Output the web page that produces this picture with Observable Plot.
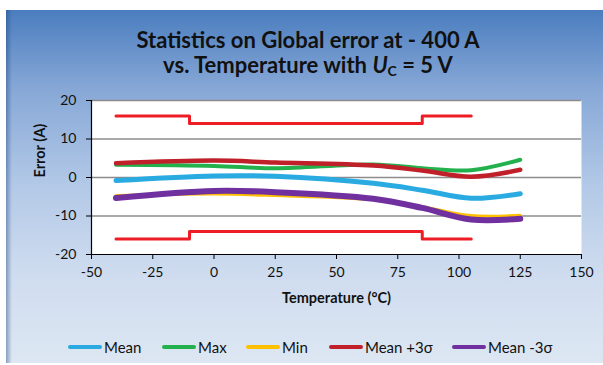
<!DOCTYPE html>
<html>
<head>
<meta charset="utf-8">
<script src="https://cdn.jsdelivr.net/npm/d3@7"></script>
<script src="https://cdn.jsdelivr.net/npm/@observablehq/plot@0.6"></script>
<style>
  html, body { margin: 0; padding: 0; background: #fff; }
  #wrap { position: relative; width: 603px; height: 365px; overflow: hidden; background: #fff; font-family: Lato, "Open Sans", sans-serif; }
  #bg { position: absolute; left: 6px; top: 10px; width: 597px; height: 353px;
        background: linear-gradient(to bottom, #4a7dbf 0%, #86a7d6 22%, #b3c9e7 50%, #cfdcef 75%, #dde7f3 100%); }
  #bg::before { content: ""; position: absolute; left: 0; top: 0; width: 6px; height: 100%;
        background: linear-gradient(to right, rgba(30,70,130,0.45), rgba(30,70,130,0)); }
  #title { position: absolute; left: 8px; width: 600px; top: 27px; text-align: center; font-weight: bold; font-size: 22px; line-height: 25px; color: #111; }
  #title sub { font-size: 14px; vertical-align: -3px; line-height: 0; }
  #chart { position: absolute; left: 0; top: 0; }
  .leg { position: absolute; top: 339px; font-size: 15px; color: #111; display: flex; align-items: center; height: 16px; white-space: nowrap; }
  .leg span.sw { display: inline-block; width: 34px; height: 4px; border-radius: 2px; margin-right: 2px; }
</style>
</head>
<body>
<div id="wrap">
  <div id="bg"></div>
  <div id="title">Statistics on Global error at - 400 A<br>vs. Temperature with <i>U</i><sub>C</sub> = 5 V</div>
  <div id="chart"></div>
  <div id="legend"></div>
</div>
<script>
const temps = [-40, 0, 25, 65, 85, 105, 125];
const meanVals = [-0.8, 0.4, 0.3, -1.5, -3.3, -5.4, -4.2];
const maxVals = [3.3, 3.0, 2.4, 3.4, 2.4, 1.9, 4.6];
const minVals = [-4.7, -4.3, -4.7, -5.8, -7.6, -9.9, -9.8];
const plus3Vals = [3.7, 4.4, 3.9, 3.1, 1.8, 0.2, 2.0];
const minus3Vals = [-5.3, -3.5, -3.8, -5.5, -7.9, -10.9, -10.7];

const limitTemps = [-40, -10, -10, 85, 85, 105];
const upperLimit = [16, 16, 14, 14, 16, 16];
const lowerLimit = [-16, -16, -14, -14, -16, -16];

const xTicks = [-50, -25, 0, 25, 50, 75, 100, 125, 150];
const yTicks = [-20, -10, 0, 10, 20];
const xLabel = "Temperature (°C)";
const yLabel = "Error (A)";

const seriesNames = ["Mean", "Max", "Min", "Mean +3σ", "Mean -3σ"];
const seriesColors = ["#29abe2", "#22b14c", "#ffc000", "#c0202a", "#7030a0"];
const seriesWidths = [5, 4, 3, 4.5, 6];
const seriesValues = [meanVals, maxVals, minVals, plus3Vals, minus3Vals];

const toRows = (vals) => temps.map((t, i) => ({t, v: vals[i]}));
const limRows = (vals) => limitTemps.map((t, i) => ({t, v: vals[i]}));

const drawOrder = [1, 2, 0, 3, 4];
const lineMarks = drawOrder.map(i => Plot.line(toRows(seriesValues[i]), {
  x: "t", y: "v", curve: "catmull-rom", stroke: seriesColors[i], strokeWidth: seriesWidths[i], strokeLinecap: "round", strokeLinejoin: "round"
}));

const plot = Plot.plot({
  width: 603,
  height: 365,
  marginLeft: 91,
  marginRight: 22,
  marginTop: 100,
  marginBottom: 111,
  style: { background: "transparent", fontFamily: "Lato, 'Open Sans', sans-serif", fontSize: "14px", color: "#111" },
  x: { domain: [-50, 150] },
  y: { domain: [-20, 20] },
  marks: [
    Plot.frame({ fill: "white", stroke: "none" }),
    Plot.ruleY(yTicks.filter(d => d > -20), { stroke: "#8c8c8c", strokeWidth: 1.5 }),
    Plot.line(limRows(upperLimit), { x: "t", y: "v", stroke: "#ee1c25", strokeWidth: 3 }),
    Plot.line(limRows(lowerLimit), { x: "t", y: "v", stroke: "#ee1c25", strokeWidth: 3 }),
    ...lineMarks,
    Plot.ruleY([-20], { stroke: "#000", strokeWidth: 1.2 }),
    Plot.ruleX([-50], { stroke: "#000", strokeWidth: 1.2 }),
    Plot.axisX({ ticks: xTicks, tickFormat: d => String(d), tickSize: 5, tickPadding: 8, stroke: "#000", fontSize: 14, label: null }),
    Plot.axisY({ ticks: yTicks, tickFormat: d => String(d), tickSize: 5, tickPadding: 10, stroke: "#000", fontSize: 14, label: null }),
    Plot.text([xLabel], { text: d => d, frameAnchor: "bottom", dy: 48, fontWeight: "bold", fontSize: 14.5, fill: "#111" }),
    Plot.text([yLabel], { text: d => d, frameAnchor: "left", dx: -51, rotate: -90, fontWeight: "bold", fontSize: 14.5, fill: "#111" })
  ]
});
document.getElementById("chart").appendChild(plot);

const legendLefts = [68, 162, 246, 329, 452];
const legend = document.getElementById("legend");
seriesNames.forEach((name, i) => {
  const d = document.createElement("div");
  d.className = "leg";
  d.style.left = legendLefts[i] + "px";
  d.innerHTML = `<span class="sw" style="background:${seriesColors[i]}"></span>${name}`;
  legend.appendChild(d);
});
</script>
</body>
</html>
